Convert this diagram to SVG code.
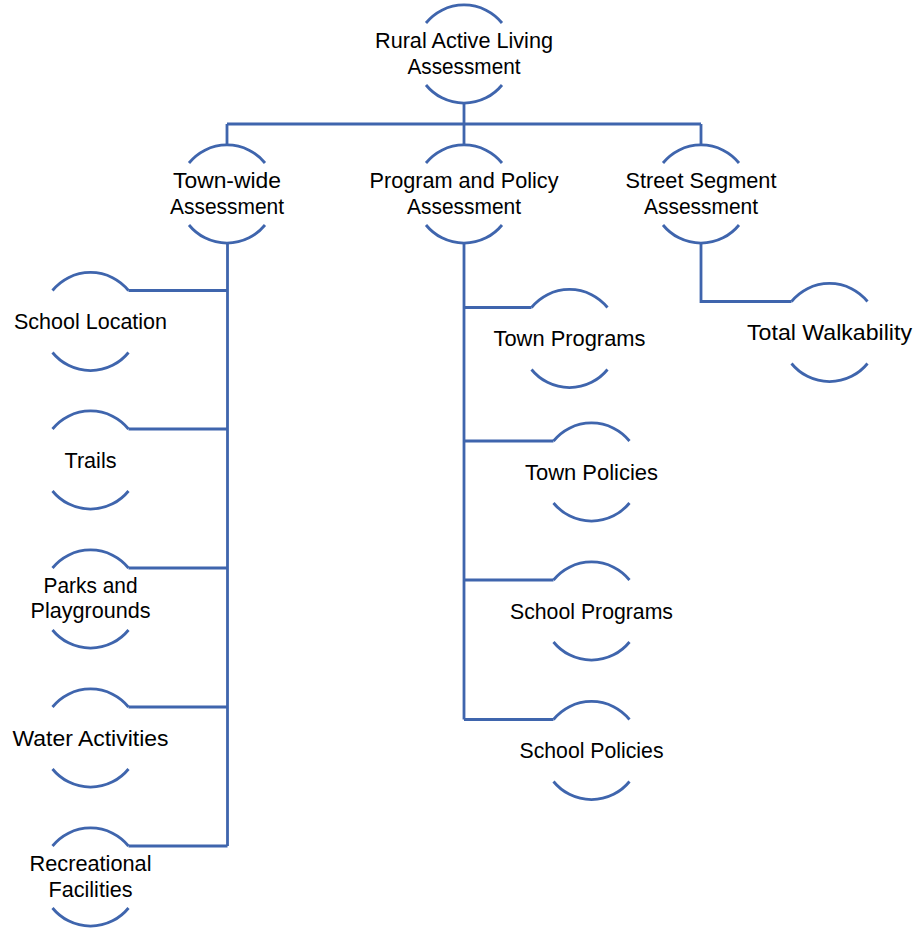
<svg xmlns="http://www.w3.org/2000/svg" xmlns:xlink="http://www.w3.org/1999/xlink" width="915" height="930" viewBox="0 0 915 930">
<style>
.arc{fill:none;stroke:#3F65AD;stroke-width:2.8}
.conn{fill:none;stroke:#3F65AD;stroke-width:2.8;stroke-linejoin:miter}
.lbl{font-family:"Liberation Sans",Arial,sans-serif;font-size:21.5px;fill:#000;text-anchor:middle}
</style>
<defs>
<path id="ring" d="M-38,-31 A49,49 0 0 1 38,-31 M-38,31 A49,49 0 0 0 38,31"/>
</defs>
<rect width="915" height="930" fill="#fff"/>
<g id="connectors">
<path class="conn" d="M464,103 V124 M227,124 H701 M227,124 V145 M464,124 V145 M701,124 V145"/>
<path class="conn" d="M227.5,243 V846 M128.5,290.5 H227.5 M128.5,429 H227.5 M128.5,568 H227.5 M128.5,707 H227.5 M128.5,846 H227.5"/>
<path class="conn" d="M464,243 V719.5 M464,307.5 H531.5 M464,441 H553.5 M464,580 H553.5 M464,719.5 H553.5"/>
<path class="conn" d="M701,243 V301.5 H791.5"/>
</g>
<g id="root" transform="translate(464,54)"><use class="arc" href="#ring"/><text class="lbl" y="-6" textLength="178" lengthAdjust="spacingAndGlyphs">Rural Active Living</text><text class="lbl" y="19.5" textLength="113" lengthAdjust="spacingAndGlyphs">Assessment</text></g>
<g id="townwide" transform="translate(227,194)"><use class="arc" href="#ring"/><text class="lbl" y="-6" textLength="108" lengthAdjust="spacingAndGlyphs">Town-wide</text><text class="lbl" y="19.5" textLength="114" lengthAdjust="spacingAndGlyphs">Assessment</text></g>
<g id="programpolicy" transform="translate(464,194)"><use class="arc" href="#ring"/><text class="lbl" y="-6" textLength="189" lengthAdjust="spacingAndGlyphs">Program and Policy</text><text class="lbl" y="19.5" textLength="114" lengthAdjust="spacingAndGlyphs">Assessment</text></g>
<g id="streetsegment" transform="translate(701,194)"><use class="arc" href="#ring"/><text class="lbl" y="-6" textLength="151" lengthAdjust="spacingAndGlyphs">Street Segment</text><text class="lbl" y="19.5" textLength="114" lengthAdjust="spacingAndGlyphs">Assessment</text></g>
<g id="schoollocation" transform="translate(90.5,321.5)"><use class="arc" href="#ring"/><text class="lbl" y="7.5" textLength="153" lengthAdjust="spacingAndGlyphs">School Location</text></g>
<g id="trails" transform="translate(90.5,460)"><use class="arc" href="#ring"/><text class="lbl" y="7.5" textLength="52" lengthAdjust="spacingAndGlyphs">Trails</text></g>
<g id="parks" transform="translate(90.5,599)"><use class="arc" href="#ring"/><text class="lbl" y="-6" textLength="94" lengthAdjust="spacingAndGlyphs">Parks and</text><text class="lbl" y="19" textLength="120" lengthAdjust="spacingAndGlyphs">Playgrounds</text></g>
<g id="water" transform="translate(90.5,738)"><use class="arc" href="#ring"/><text class="lbl" y="7.5" textLength="156" lengthAdjust="spacingAndGlyphs">Water Activities</text></g>
<g id="recreational" transform="translate(90.5,877)"><use class="arc" href="#ring"/><text class="lbl" y="-6" textLength="122" lengthAdjust="spacingAndGlyphs">Recreational</text><text class="lbl" y="19.5" textLength="84" lengthAdjust="spacingAndGlyphs">Facilities</text></g>
<g id="townprograms" transform="translate(569.5,338.5)"><use class="arc" href="#ring"/><text class="lbl" y="7.5" textLength="152" lengthAdjust="spacingAndGlyphs">Town Programs</text></g>
<g id="townpolicies" transform="translate(591.5,472)"><use class="arc" href="#ring"/><text class="lbl" y="7.5" textLength="133" lengthAdjust="spacingAndGlyphs">Town Policies</text></g>
<g id="schoolprograms" transform="translate(591.5,611)"><use class="arc" href="#ring"/><text class="lbl" y="7.5" textLength="163" lengthAdjust="spacingAndGlyphs">School Programs</text></g>
<g id="schoolpolicies" transform="translate(591.5,750.5)"><use class="arc" href="#ring"/><text class="lbl" y="7.5" textLength="144" lengthAdjust="spacingAndGlyphs">School Policies</text></g>
<g id="totalwalkability" transform="translate(829.5,332.5)"><use class="arc" href="#ring"/><text class="lbl" y="7.5" textLength="165" lengthAdjust="spacingAndGlyphs">Total Walkability</text></g>
</svg>
